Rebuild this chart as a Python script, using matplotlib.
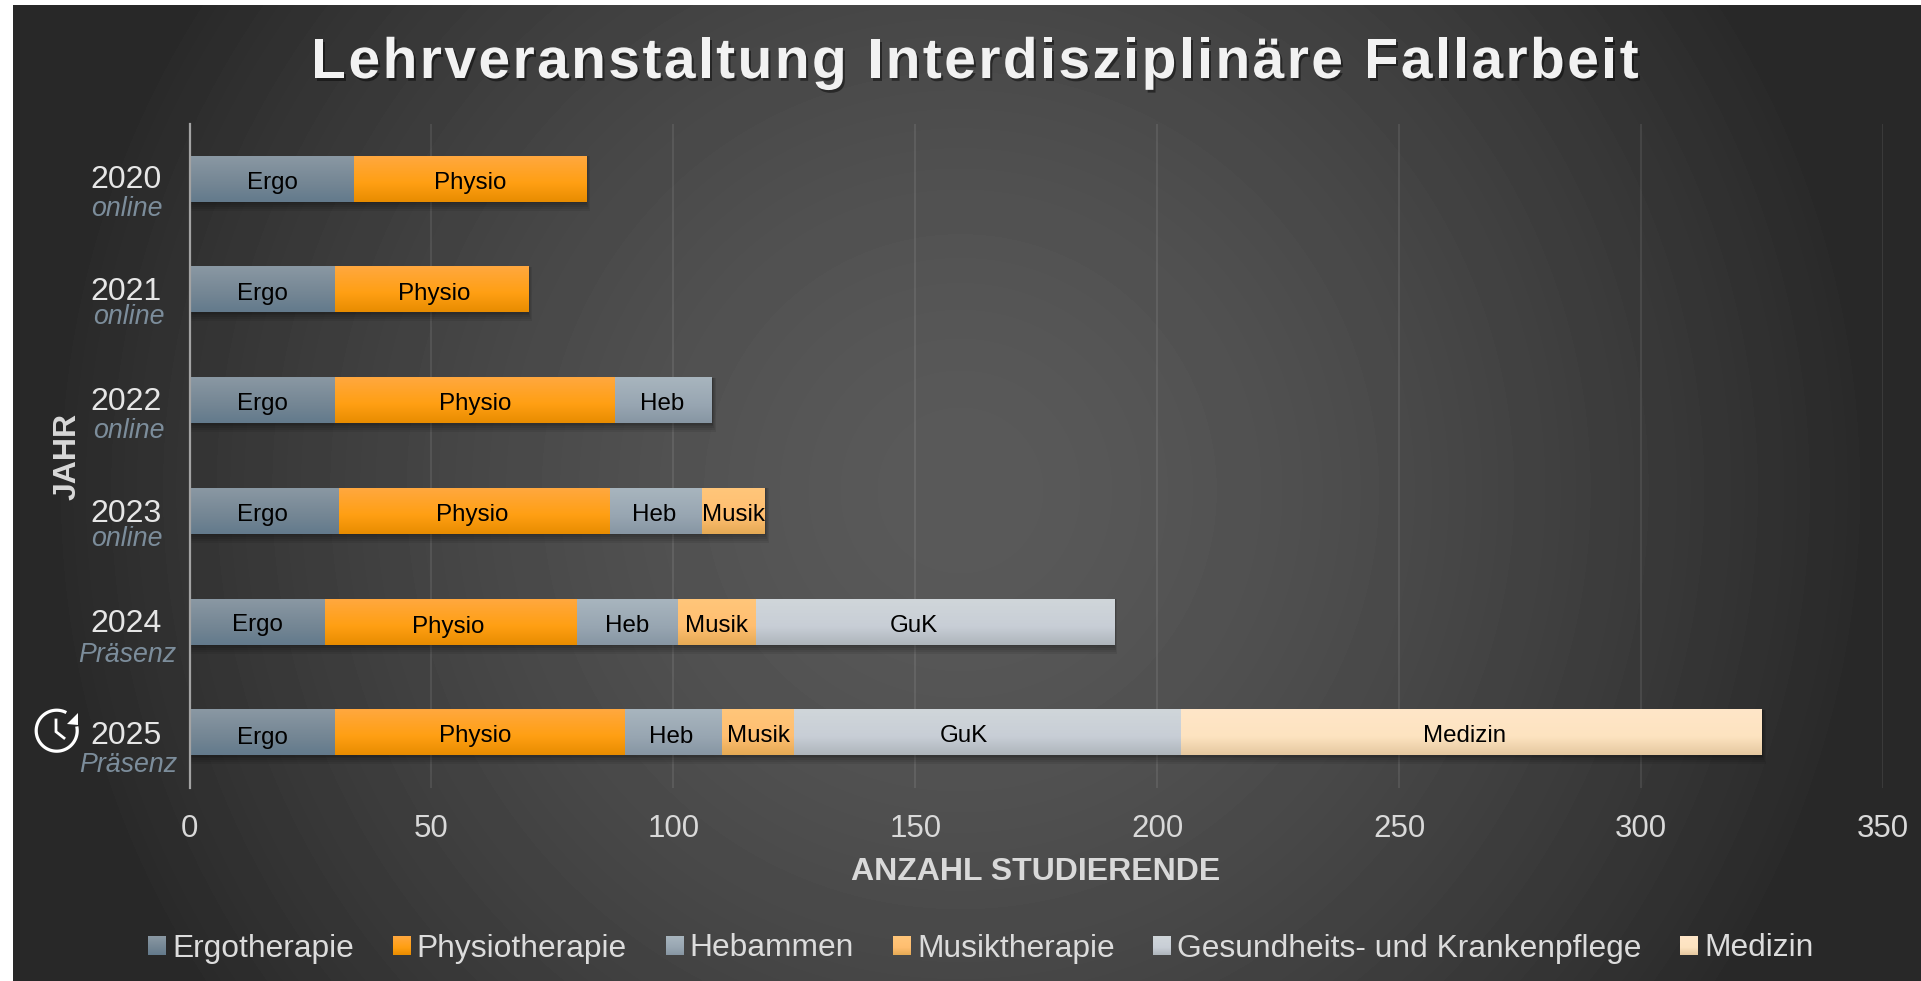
import numpy as np
import matplotlib
matplotlib.use("Agg")
import matplotlib.pyplot as plt
import matplotlib.patheffects as pe
from matplotlib.patches import Patch, Polygon
from matplotlib.text import Text
from matplotlib.transforms import ScaledTranslation

plt.rcParams['font.family'] = ['Liberation Sans', 'DejaVu Sans']

# data
years = ['2020', '2021', '2022', '2023', '2024', '2025']
modes = ['online', 'online', 'online', 'online', 'Präsenz', 'Präsenz']
legend_names = ['Ergotherapie', 'Physiotherapie', 'Hebammen', 'Musiktherapie',
                'Gesundheits- und Krankenpflege', 'Medizin']
short_names = ['Ergo', 'Physio', 'Heb', 'Musik', 'GuK', 'Medizin']
ergo = [34, 30, 30, 31, 28, 30]
physio = [48, 40, 58, 56, 52, 60]
heb = [0, 0, 20, 19, 21, 20]
musik = [0, 0, 0, 13, 16, 15]
guk = [0, 0, 0, 0, 74, 80]
medizin = [0, 0, 0, 0, 0, 120]
x_ticks = [0, 50, 100, 150, 200, 250, 300, 350]

# top, middle, bottom of the bar gradient
colors = [('#8a98a3', '#748694', '#637a8c'),
          ('#ffa83f', '#ff9f12', '#e88c00'),
          ('#a8b5be', '#98a6b2', '#8796a3'),
          ('#ffc67a', '#ffbe70', '#e5aa55'),
          ('#d0d6da', '#c8ced6', '#aeb5bb'),
          ('#ffe6c8', '#fde3c0', '#e5c8a0')]

# small shifts of the data labels in pixels, (year index, series index): (dx, dy)
nudge = {(0, 0): (1, 0), (1, 1): (3, 0), (3, 0): (-2, 0), (3, 1): (-3, 0), (3, 2): (-2, 0),
         (2, 2): (-2, 0), (4, 0): (0, -1), (4, 1): (-3, 1), (4, 4): (-21, 0),
         (5, 0): (0, 2), (5, 1): (-5, 0), (5, 2): (-2, 1), (5, 4): (-24, 0),
         (5, 5): (-7, 0)}

W, H = 1921, 981
AX_L, AX_R, AX_T, AX_B = 189.5, 1883, 123.7, 787.8
series = [ergo, physio, heb, musik, guk, medizin]


def gradient(c, n=64):
    top, mid, bot = [np.array(matplotlib.colors.to_rgb(k)) for k in c]
    t = np.linspace(0, 1, n)[:, None]
    return np.where(t < 0.6, top + (mid - top) * t / 0.6, mid + (bot - mid) * (t - 0.6) / 0.4)[:, None, :]


class SpacedText(Text):
    # one text, drawn glyph by glyph with some letter spacing
    spacing = 2.4

    def draw(self, renderer):
        s = self.get_text()
        prop = self.get_fontproperties()
        width = lambda p: renderer.get_text_width_height_descent(p, prop, False)[0]
        x0, y0 = self.get_position()
        start = x0 - (width(s) + self.spacing * (len(s) - 1)) / 2
        for i, ch in enumerate(s):
            if ch == ' ':
                continue
            t = Text(start + width(s[:i]) + i * self.spacing if i else start, y0, ch, color=self.get_color(),
                     fontproperties=prop, va='baseline', ha='left', transform=self.get_transform())
            t.set_figure(self.get_figure())
            t.set_path_effects(self.get_path_effects())
            t.draw(renderer)


fig = plt.figure(figsize=(W / 100, H / 100), dpi=100, facecolor='white')

# background
bg = fig.add_axes([0, 0, 1, 1], zorder=0)
xx, yy = np.meshgrid(np.arange(13, W), np.arange(5, H))
r = np.hypot(xx - 960, yy - 490)
v = np.clip(0x5a - 0x31 * (r / 910) ** 1.5, 0x29, 0x5a) / 255
bg.imshow(v, cmap='gray', vmin=0, vmax=1, extent=[13, W, H, 5], aspect='auto', interpolation='bilinear')
bg.set_xlim(0, W)
bg.set_ylim(H, 0)
bg.axis('off')

ax = fig.add_axes([AX_L / W, 1 - AX_B / H, (AX_R - AX_L) / W, (AX_B - AX_T) / H], zorder=1)
ax.patch.set_alpha(0)
px_x = (AX_R - AX_L) / 350
px_y = (AX_B - AX_T) / 6
bar_h = 45.5 / px_y
ypos = np.arange(6)

# shadows, they only grow downwards and a little to the right
totals = np.sum(series, axis=0)
for g in [9, 7, 5, 3, 1.5]:
    ax.barh(ypos + (g / 2) / px_y, totals + (g * 0.4) / px_x, height=bar_h + g / px_y, left=0,
            color='black', alpha=0.075, lw=0, zorder=2)

left = np.zeros(6)
for s, vals in enumerate(series):
    vals = np.array(vals)
    ax.barh(ypos, vals, left=left, height=bar_h, color=colors[s][1], lw=0, zorder=3)
    for i in ypos:
        if vals[i] == 0:
            continue
        ax.imshow(gradient(colors[s]), aspect='auto', zorder=3.5, interpolation='bilinear',
                  extent=[left[i], left[i] + vals[i], i + bar_h / 2, i - bar_h / 2])
        dx, dy = nudge.get((i, s), (0, 0))
        ax.annotate(short_names[s], xy=(left[i] + vals[i] / 2, i), xytext=(dx * 0.72, -(dy + 4) * 0.72),
                    textcoords='offset points', ha='center', va='center', fontsize=17.4, color='black', zorder=5)
    left = left + vals

ax.set_xlim(0, 350)
ax.set_ylim(5.5, -0.5)
ax.set_xticks(x_ticks)
ax.set_yticks(ypos)
ax.set_yticklabels(years)
ax.grid(axis='x', color='white', alpha=0.09, lw=1.4, zorder=1)
ax.set_axisbelow(True)
for sp in ['top', 'right', 'bottom']:
    ax.spines[sp].set_visible(False)
ax.spines['left'].set_color('#a3a3a3')
ax.spines['left'].set_linewidth(1.6)
ax.spines['left'].set_zorder(6)
ax.tick_params(axis='x', length=0, pad=19, labelsize=22.5, labelcolor='#d9d9d9')
ax.tick_params(axis='y', length=0, pad=20, labelsize=23, labelcolor='#e6e6e6')

year_shift = [2.5, 1, 2, 1, 1, 0]
for lab, sh in zip(ax.get_yticklabels(), year_shift):
    lab.set_transform(lab.get_transform() + ScaledTranslation(0, sh / 100, fig.dpi_scale_trans))

# overlay in pixels
ov = fig.add_axes([0, 0, 1, 1], zorder=6)
ov.patch.set_alpha(0)
ov.axis('off')

title = SpacedText(975, 78, 'Lehrveranstaltung Interdisziplinäre Fallarbeit', fontsize=41, fontweight='bold',
                   color='#f2f2f2', va='baseline', ha='center',
                   path_effects=[pe.SimplePatchShadow(offset=(1.5, -2), shadow_rgbFace='black', alpha=0.45), pe.Normal()])
ov.add_artist(title)
ov.text(1036, 872.5, 'ANZAHL STUDIERENDE', ha='center', va='center', fontsize=23, fontweight='bold', color='#d9d9d9')
ov.text(68, 456, 'JAHR', ha='center', va='center', rotation=90, fontsize=23, fontweight='bold', color='#d9d9d9')

mode_x = [127, 129, 129, 127, 127, 128]
mode_y = [208.5, 317.5, 430.5, 539.5, 654.5, 765]
for m, mx, my in zip(modes, mode_x, mode_y):
    ov.text(mx, my, m, ha='center', va='center', fontsize=19.3, style='italic', color='#7c8d9b')

# clock icon
t = np.radians(np.linspace(-12, 298, 120))
ov.plot(56.7 + 20.5 * np.cos(t), 730.7 + 20.5 * np.sin(t), color='white', lw=2.3, solid_capstyle='butt')
ov.plot([56, 56, 64], [720, 731.7, 738], color='white', lw=2, solid_joinstyle='miter')
ov.add_patch(Polygon([(78, 713), (78, 725), (67, 724)], closed=True, color='white', lw=0))

leg = fig.legend(handles=[Patch(color=c[1], lw=0) for c in colors], labels=legend_names, ncol=6, frameon=False,
                 fontsize=22.85, labelcolor='#dcdcdc', handlelength=0.54, handleheight=0.54, handletextpad=0.22,
                 columnspacing=1.22, loc='center', bbox_to_anchor=(981 / W, 1 - 948.5 / H), borderpad=0, borderaxespad=0)

# gradient swatches on top of the legend handles
fig.canvas.draw()
for h, c in zip(leg.legend_handles, colors):
    b = h.get_window_extent()
    ov.imshow(gradient(c), aspect='auto', zorder=10, interpolation='bilinear',
              extent=[b.x0, b.x1, H - b.y0, H - b.y1])
ov.set_xlim(0, W)
ov.set_ylim(H, 0)

fig.savefig('out.png', dpi=100, facecolor='white')
